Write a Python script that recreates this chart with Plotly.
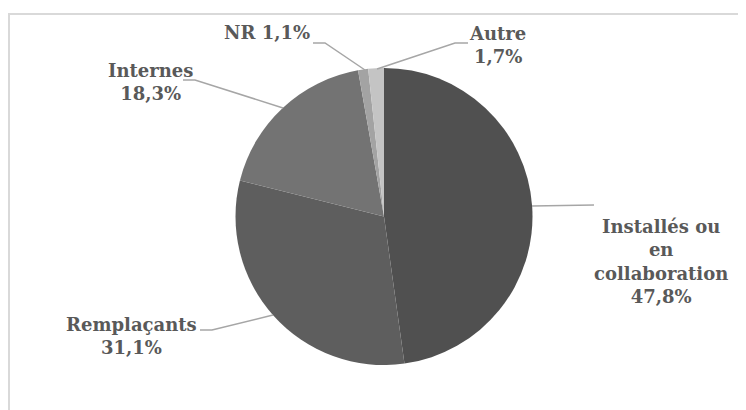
import plotly.graph_objects as go

# the page puts the figure 8px in from the top-left corner
OFF = 8
W, H = 746 - OFF, 410 - OFF

labels = ["Installés ou en collaboration", "Remplaçants", "Internes", "NR", "Autre"]
values = [47.8, 31.1, 18.3, 1.1, 1.7]
colors = ["#505050", "#5e5e5e", "#737373", "#a3a3a3", "#c4c4c4"]

# how each label is wrapped in the chart
wrapped = ["Installés ou<br>en<br>collaboration", "Remplaçants", "Internes", "NR", "Autre"]
joiner = ["<br>", "<br>", "<br>", " ", "<br>"]

# label centres and leader lines, in screen pixels
label_pos = [(661, 261), (131, 336), (150, 82), (267, 33), (498, 45)]
leaders = [
    [(532, 206), (594, 205)],
    [(200, 330), (212, 330), (273, 315)],
    [(183, 80), (195, 80), (283, 108)],
    [(313, 43), (325, 43), (365, 70)],
    [(377, 69), (455, 43), (468, 43)],
]


def px(x, y):
    return (x - OFF) / W, 1 - (y - OFF) / H


def fmt(v):
    return f"{v:.1f}".replace(".", ",") + "%"


cx, cy, r = 384, 216.5, 148.5
x0, y0 = px(cx - r, cy + r)
x1, y1 = px(cx + r, cy - r)

fig = go.Figure(go.Pie(
    labels=labels, values=values, sort=False, direction="clockwise", rotation=0,
    marker=dict(colors=colors, line=dict(width=0)),
    textinfo="none", hoverinfo="label+percent",
    domain=dict(x=[x0, x1], y=[y0, y1]),
))

font = dict(family="DejaVu Serif", size=18, color="#595959")
for name, j, v, (lx, ly) in zip(wrapped, joiner, values, label_pos):
    ax, ay = px(lx, ly)
    fig.add_annotation(x=ax, y=ay, xref="paper", yref="paper", showarrow=False,
                       text=f"<b>{name}{j}{fmt(v)}</b>", font=font, align="center",
                       xanchor="center", yanchor="middle")

for pts in leaders:
    path = "M " + " L ".join(f"{a},{b}" for a, b in (px(*p) for p in pts))
    fig.add_shape(type="path", path=path, xref="paper", yref="paper",
                  line=dict(color="#a6a6a6", width=1.5))

# chart frame
fx0, fy0 = px(9, 14)
fig.add_shape(type="rect", xref="paper", yref="paper", x0=fx0, y0=-0.05, x1=1.05, y1=fy0,
              line=dict(color="#d9d9d9", width=2))

fig.update_layout(width=W, height=H, margin=dict(l=0, r=0, t=0, b=0),
                  paper_bgcolor="white", plot_bgcolor="white", showlegend=False)
fig.write_html("out.html")
